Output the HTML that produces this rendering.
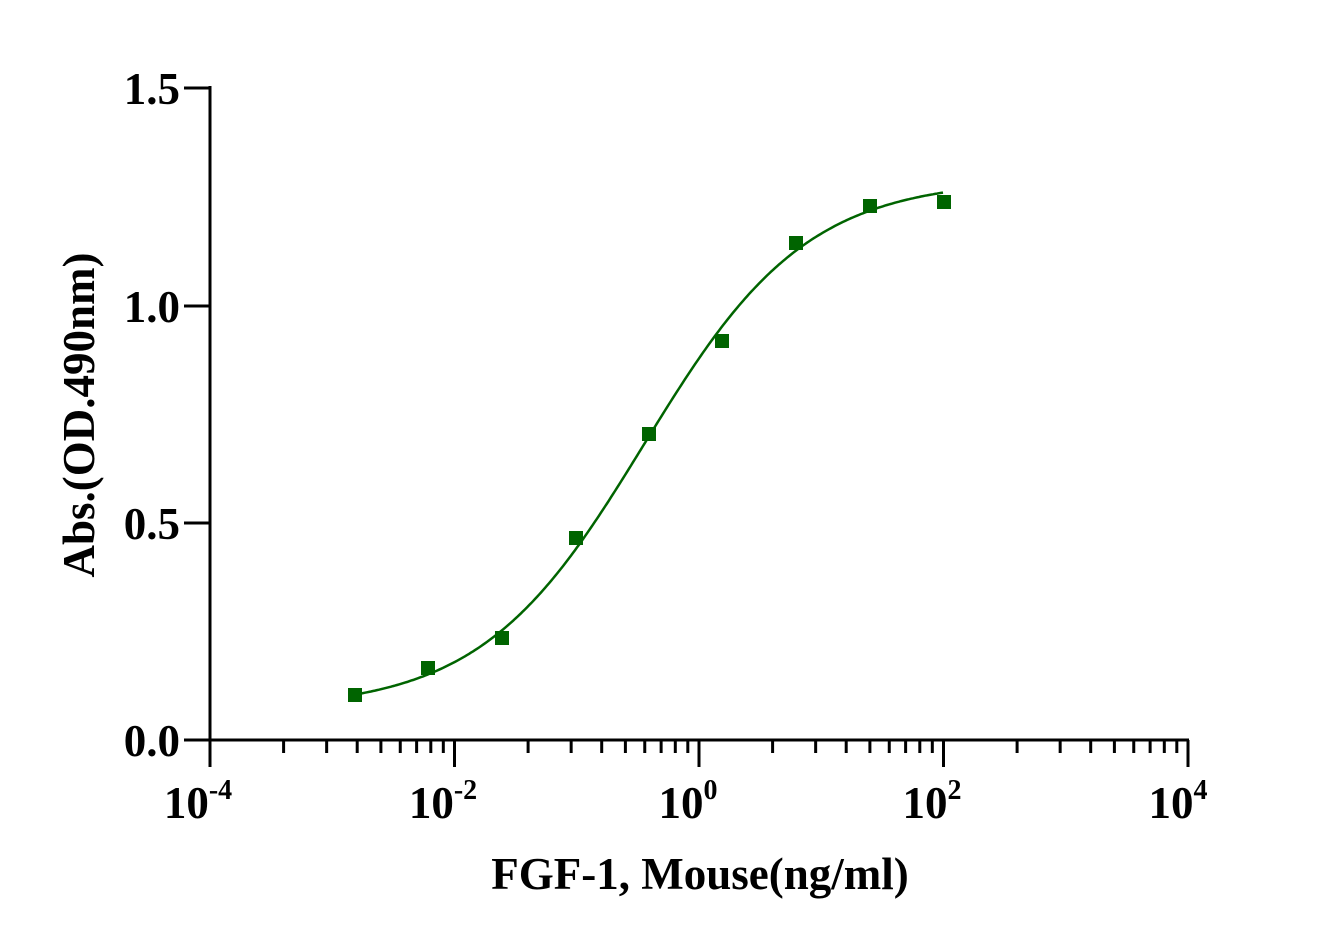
<!DOCTYPE html>
<html><head><meta charset="utf-8"><style>
body{margin:0;background:#fff}
svg text{font-family:"Liberation Serif",serif;font-weight:bold;fill:#000}
</style></head><body>
<svg id="s" width="1325" height="945" xmlns="http://www.w3.org/2000/svg">
<g stroke="#000" stroke-width="3" fill="none" id="ax">
<line x1="210" y1="86" x2="210" y2="767"/>
<line x1="184" y1="740" x2="1189" y2="740"/>
<line x1="184" y1="88" x2="210" y2="88"/>
<line x1="184" y1="306" x2="210" y2="306"/>
<line x1="184" y1="523" x2="210" y2="523"/>
</g>
<g font-size="45" text-anchor="end">
<text x="180" y="104">1.5</text>
<text x="180" y="322">1.0</text>
<text x="180" y="539">0.5</text>
<text x="180" y="756">0.0</text>
</g>
<g font-size="45" text-anchor="middle">
<text x="198" y="818">10<tspan font-size="28" dy="-19">-4</tspan></text>
<text x="443" y="818">10<tspan font-size="28" dy="-19">-2</tspan></text>
<text x="688" y="818">10<tspan font-size="28" dy="-19">0</tspan></text>
<text x="932" y="818">10<tspan font-size="28" dy="-19">2</tspan></text>
<text x="1178" y="818">10<tspan font-size="28" dy="-19">4</tspan></text>
</g>
<text x="700" y="889" font-size="45" text-anchor="middle">FGF-1, Mouse(ng/ml)</text>
<text transform="translate(94,415) rotate(-90)" font-size="45" text-anchor="middle">Abs.(OD.490nm)</text>
<path id="c" stroke="#006400" stroke-width="2.5" fill="none"/>
<g fill="#006400" id="pts"></g>
</svg>
<script>
var x0=699,dx=122.25,y0=740,dy=434.67;
var ax=document.getElementById('ax'),ns="http://www.w3.org/2000/svg";
for(var d=-4;d<4;d+=2){for(var k=2;k<10;k++){var x=x0+(d+2*Math.log10(k))*dx;
var l=document.createElementNS(ns,'line');l.setAttribute('x1',x);l.setAttribute('x2',x);l.setAttribute('y1',740);l.setAttribute('y2',753);ax.appendChild(l);}}
[-4,-2,0,2,4].forEach(function(d){var x=x0+d*dx;var l=document.createElementNS(ns,'line');l.setAttribute('x1',x);l.setAttribute('x2',x);l.setAttribute('y1',740);l.setAttribute('y2',767);ax.appendChild(l);});
function f(lx){return 0.07+1.22/(1+Math.pow(10,0.65*(-0.45-lx)));}
var p="";for(var X=355;X<=944;X+=2){var lx=(X-x0)/dx;p+=(p?"L":"M")+X+","+(y0-f(lx)*dy).toFixed(1);}
document.getElementById('c').setAttribute('d',p);
var pts=[[355,695],[428,668],[502,638],[576,538],[649,434],[722,341],[796,243],[870,206],[944,202]];
var g=document.getElementById('pts');pts.forEach(function(q){var r=document.createElementNS(ns,'rect');r.setAttribute('x',q[0]-7);r.setAttribute('y',q[1]-7);r.setAttribute('width',14);r.setAttribute('height',14);g.appendChild(r);});
</script>
</body></html>
